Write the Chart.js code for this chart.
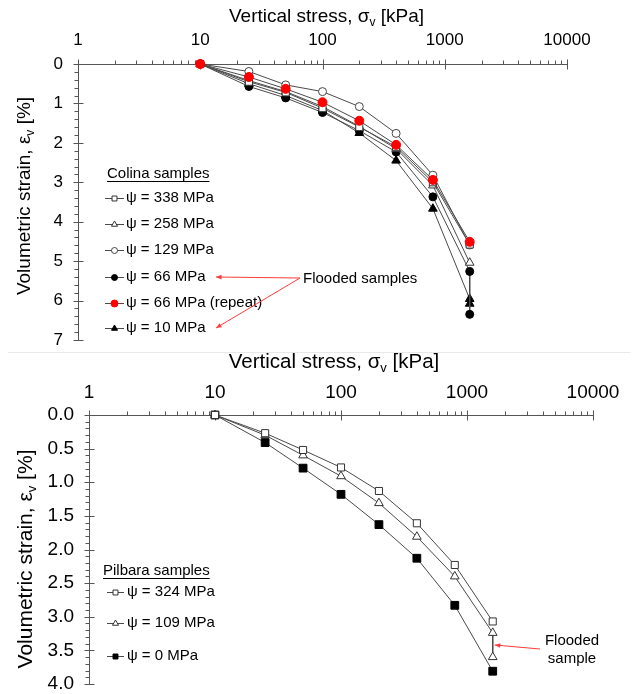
<!DOCTYPE html>
<html>
<head>
<meta charset="utf-8">
<title>Volumetric strain vs vertical stress</title>
<script src="https://cdn.jsdelivr.net/npm/chart.js@4.4.1/dist/chart.umd.min.js"></script>
<style>
    html, body { margin: 0; padding: 0; background: #fff; }
    #wrap { position: relative; width: 635px; height: 694px; overflow: hidden; }
    .panel { position: absolute; left: 0; }
    #sep { position: absolute; left: 8px; top: 352px; width: 622px; height: 1px; background: #e8e8e8; }
</style>
</head>
<body>
<div id="wrap">
    <canvas id="colinaChart" class="panel" style="top:0" width="635" height="352"></canvas>
    <div id="sep"></div>
    <canvas id="pilbaraChart" class="panel" style="top:352px" width="635" height="342"></canvas>
</div>
<script>
// ---- data ----
const stressSteps = [10, 25, 50, 100, 200, 400, 800, 1600];
const stressStepsFlooded = [10, 25, 50, 100, 200, 400, 800, 1600, 1600];
const xTickValues = [1, 10, 100, 1000, 10000];

// Colina samples, volumetric strain [%]
const colina338 = [0, 0.45, 0.72, 1.12, 1.60, 2.10, 3.00, 4.58];
const colina258 = [0, 0.42, 0.70, 1.08, 1.58, 2.15, 3.08, 5.04];
const colina129 = [0, 0.19, 0.53, 0.70, 1.08, 1.76, 2.82, 4.59];
const colina66 = [0, 0.57, 0.86, 1.23, 1.69, 2.23, 3.37, 5.26, 6.35];
const colina66repeat = [0, 0.33, 0.63, 0.97, 1.44, 2.05, 2.94, 4.51];
const colina10 = [0, 0.50, 0.80, 1.18, 1.75, 2.45, 3.67, 5.96, 6.08];
const colinaYTicks = [0, 1, 2, 3, 4, 5, 6, 7];

// Pilbara samples, volumetric strain [%]
const pilbara324 = [0, 0.27, 0.52, 0.78, 1.13, 1.61, 2.23, 3.07];
const pilbara109 = [0, 0.30, 0.60, 0.91, 1.31, 1.81, 2.40, 3.24, 3.60];
const pilbara0 = [0, 0.41, 0.79, 1.18, 1.63, 2.13, 2.83, 3.81];
const pilbaraYTicks = [0, 0.5, 1.0, 1.5, 2.0, 2.5, 3.0, 3.5, 4.0];

const FONT = '"Liberation Sans", Arial, Helvetica, sans-serif';
const AXIS_COLOR = '#555';
const LINE_COLOR = '#4a4a4a';
const ARROW_RED = '#ff3b3b';

const toPoints = (xs, ys) => ys.map((y, i) => ({ x: xs[i], y: y }));

function series(label, xs, ys, style, radius, fill, stroke, order) {
    return {
        label: label,
        data: toPoints(xs, ys),
        borderColor: LINE_COLOR,
        borderWidth: 1,
        pointStyle: style,
        pointRadius: radius,
        pointHoverRadius: radius,
        pointBackgroundColor: fill,
        pointBorderColor: stroke,
        pointBorderWidth: 1,
        tension: 0,
        clip: false,
        order: order || 0
    };
}

// text with a subscript part, optionally rotated
function drawSubText(ctx, parts, cx, cy, size, rotate) {
    ctx.save();
    ctx.translate(cx, cy);
    if (rotate) ctx.rotate(-Math.PI / 2);
    ctx.fillStyle = '#000';
    ctx.textBaseline = 'middle';
    const fontOf = (p) => `${p.sub ? Math.round(size * 0.62) : size}px ${FONT}`;
    let total = 0;
    parts.forEach(p => { ctx.font = fontOf(p); total += ctx.measureText(p.t).width; });
    let x = -total / 2;
    parts.forEach(p => {
        ctx.font = fontOf(p);
        ctx.fillText(p.t, x, p.sub ? size * 0.3 : 0);
        x += ctx.measureText(p.t).width;
    });
    ctx.restore();
}

function drawArrow(ctx, x0, y0, x1, y1) {
    const ang = Math.atan2(y1 - y0, x1 - x0);
    ctx.beginPath();
    ctx.moveTo(x0, y0);
    ctx.lineTo(x1, y1);
    ctx.stroke();
    ctx.beginPath();
    ctx.moveTo(x1, y1);
    ctx.lineTo(x1 - 6 * Math.cos(ang - 0.4), y1 - 6 * Math.sin(ang - 0.4));
    ctx.lineTo(x1 - 6 * Math.cos(ang + 0.4), y1 - 6 * Math.sin(ang + 0.4));
    ctx.closePath();
    ctx.fill();
}

// axis lines, major/minor tick marks, titles, legend and notes
function panelPlugin(cfg) {
    return {
        id: 'panelDecor',
        beforeDatasetsDraw(chart) {
            const { ctx, chartArea: a, scales: { x, y } } = chart;
            const ty = Math.round(a.top) + 0.5;
            const lx = Math.round(a.left) + 0.5;
            ctx.save();
            ctx.strokeStyle = AXIS_COLOR;
            ctx.lineWidth = 1;
            ctx.beginPath();
            ctx.moveTo(lx, ty); ctx.lineTo(Math.round(a.right) + 0.5, ty);
            ctx.moveTo(lx, ty); ctx.lineTo(lx, Math.round(a.bottom) + 0.5);
            xTickValues.forEach((v, i) => {
                const px = Math.round(x.getPixelForValue(v)) + 0.5;
                ctx.moveTo(px, ty - 5); ctx.lineTo(px, ty + 5);
                if (i < xTickValues.length - 1) {
                    for (let k = 2; k <= 9; k++) {
                        const mx = Math.round(x.getPixelForValue(k * v)) + 0.5;
                        ctx.moveTo(mx, ty - 4); ctx.lineTo(mx, ty);
                    }
                }
            });
            cfg.yTicks.forEach(v => {
                const py = Math.round(y.getPixelForValue(v)) + 0.5;
                ctx.moveTo(lx - 5, py); ctx.lineTo(lx + 5, py);
            });
            const yMax = cfg.yTicks[cfg.yTicks.length - 1];
            for (let v = cfg.yMinor; v < yMax - 1e-6; v += cfg.yMinor) {
                const py = Math.round(y.getPixelForValue(v)) + 0.5;
                ctx.moveTo(lx - 4, py); ctx.lineTo(lx, py);
            }
            ctx.stroke();
            ctx.restore();
        },
        afterDraw(chart) {
            const { ctx, chartArea: a } = chart;
            ctx.save();
            // axis titles
            drawSubText(ctx, [{ t: 'Vertical stress, σ' }, { t: 'v', sub: true }, { t: ' [kPa]' }],
                (a.left + a.right) / 2 + cfg.xTitleShift, cfg.xTitleY, cfg.xTitleSize, false);
            drawSubText(ctx, [{ t: 'Volumetric strain, ε' }, { t: 'v', sub: true }, { t: ' [%]' }],
                cfg.yTitleX, cfg.yTitleY, cfg.yTitleSize, true);

            // legend
            const lg = cfg.legend;
            ctx.font = `${lg.size}px ${FONT}`;
            ctx.fillStyle = '#000';
            ctx.textBaseline = 'middle';
            ctx.fillText(lg.title, lg.x, lg.titleY);
            const tw = ctx.measureText(lg.title).width;
            ctx.fillRect(lg.x, lg.titleY + 7, tw, 1);
            lg.rows.forEach((row, i) => {
                const ds = chart.data.datasets[row.index];
                const ry = lg.rowYs[i];
                ctx.strokeStyle = LINE_COLOR;
                ctx.lineWidth = 1;
                ctx.beginPath();
                ctx.moveTo(lg.lineX0, ry + 0.5);
                ctx.lineTo(lg.lineX1, ry + 0.5);
                ctx.stroke();
                ctx.fillStyle = ds.pointBackgroundColor;
                ctx.strokeStyle = ds.pointBorderColor;
                Chart.helpers.drawPoint(ctx, {
                    pointStyle: ds.pointStyle,
                    radius: row.r,
                    rotation: 0,
                    borderWidth: 1
                }, (lg.lineX0 + lg.lineX1) / 2, ry + 0.5);
                ctx.fillStyle = '#000';
                ctx.fillText(row.text, lg.textX, ry);
            });

            // notes with red arrows
            ctx.strokeStyle = ARROW_RED;
            ctx.fillStyle = ARROW_RED;
            ctx.lineWidth = 1;
            cfg.arrows(chart).forEach(ar => drawArrow(ctx, ar[0], ar[1], ar[2], ar[3]));
            ctx.fillStyle = '#000';
            ctx.font = `${lg.size}px ${FONT}`;
            ctx.textAlign = cfg.note.align;
            cfg.note.lines.forEach((t, i) => ctx.fillText(t, cfg.note.x, cfg.note.y + i * cfg.note.lh));
            ctx.restore();
        }
    };
}

function buildChart(canvasId, datasets, cfg) {
    const ctx = document.getElementById(canvasId);
    return new Chart(ctx, {
        type: 'line',
        data: { datasets: datasets },
        options: {
            responsive: false,
            animation: false,
            events: [],
            layout: { padding: cfg.padding },
            plugins: { legend: { display: false }, tooltip: { enabled: false } },
            scales: {
                x: {
                    type: 'logarithmic',
                    position: 'top',
                    min: 1,
                    max: 10000,
                    grid: { display: false, drawTicks: false },
                    border: { display: false },
                    afterBuildTicks: (s) => { s.ticks = xTickValues.map(v => ({ value: v })); },
                    afterFit: (s) => {
                        s.height = cfg.xAxisH;
                        s.paddingLeft = 0;
                        s.paddingRight = 0;
                    },
                    ticks: {
                        autoSkip: false,
                        maxRotation: 0,
                        padding: cfg.xTickPad,
                        color: '#000',
                        font: { family: FONT, size: cfg.tickSize },
                        callback: (v) => String(v)
                    }
                },
                y: {
                    type: 'linear',
                    reverse: true,
                    min: cfg.yTicks[0],
                    max: cfg.yTicks[cfg.yTicks.length - 1],
                    grid: { display: false, drawTicks: false },
                    border: { display: false },
                    afterBuildTicks: (s) => { s.ticks = cfg.yTicks.map(v => ({ value: v })); },
                    afterFit: (s) => {
                        s.width = cfg.yAxisW;
                        s.paddingTop = 0;
                        s.paddingBottom = 0;
                    },
                    ticks: {
                        padding: cfg.yTickPad,
                        color: '#000',
                        font: { family: FONT, size: cfg.tickSize },
                        callback: (v) => cfg.yFormat(v)
                    }
                }
            }
        },
        plugins: [panelPlugin(cfg)]
    });
}

document.addEventListener('DOMContentLoaded', () => {
    // top panel: Colina samples
    const colinaSets = [
        series('ψ = 66 MPa (repeat)', stressSteps, colina66repeat, 'circle', 4.5, '#ff0000', '#ff0000', -1),
        series('ψ = 338 MPa', stressSteps, colina338, 'rect', 5, '#fff', '#333'),
        series('ψ = 258 MPa', stressSteps, colina258, 'triangle', 5, '#fff', '#333'),
        series('ψ = 129 MPa', stressSteps, colina129, 'circle', 4, '#fff', '#444'),
        series('ψ = 66 MPa', stressStepsFlooded, colina66, 'circle', 4, '#000', '#000'),
        series('ψ = 10 MPa', stressStepsFlooded, colina10, 'triangle', 5, '#000', '#000')
    ];
    buildChart('colinaChart', colinaSets, {
        padding: { left: 0, right: 68, top: 0, bottom: 12 },
        xAxisH: 64, yAxisW: 78,
        xTickPad: 13, yTickPad: 15,
        tickSize: 17, xTitleSize: 19, yTitleSize: 19,
        xTitleShift: 4, xTitleY: 17,
        yTitleX: 25, yTitleY: 196,
        yTicks: colinaYTicks, yMinor: 0.2,
        yFormat: (v) => String(v),
        legend: {
            title: 'Colina samples', x: 107, titleY: 174, size: 15,
            lineX0: 105, lineX1: 124, textX: 126,
            rowYs: [198, 224, 250, 277, 303, 328],
            rows: [
                { index: 1, text: 'ψ = 338 MPa', r: 3.5 },
                { index: 2, text: 'ψ = 258 MPa', r: 3.5 },
                { index: 3, text: 'ψ = 129 MPa', r: 3 },
                { index: 4, text: 'ψ = 66 MPa', r: 3 },
                { index: 0, text: 'ψ = 66 MPa (repeat)', r: 3.5 },
                { index: 5, text: 'ψ = 10 MPa', r: 3.5 }
            ]
        },
        note: { lines: ['Flooded samples'], x: 303, y: 279, lh: 18, align: 'left' },
        arrows: () => [[300, 278, 216, 277], [300, 278, 216, 328]]
    });

    // bottom panel: Pilbara samples
    const pilbaraSets = [
        series('ψ = 324 MPa', stressSteps, pilbara324, 'rect', 5, '#fff', '#333'),
        series('ψ = 109 MPa', stressStepsFlooded, pilbara109, 'triangle', 5, '#fff', '#333'),
        series('ψ = 0 MPa', stressSteps, pilbara0, 'rect', 5.5, '#000', '#000')
    ];
    buildChart('pilbaraChart', pilbaraSets, {
        padding: { left: 0, right: 42, top: 0, bottom: 10 },
        xAxisH: 63, yAxisW: 89,
        xTickPad: 11, yTickPad: 15,
        tickSize: 19, xTitleSize: 20.5, yTitleSize: 21,
        xTitleShift: -7, xTitleY: 10,
        yTitleX: 26, yTitleY: 207,
        yTicks: pilbaraYTicks, yMinor: 0.1,
        yFormat: (v) => v.toFixed(1),
        legend: {
            title: 'Pilbara samples', x: 103, titleY: 219, size: 15,
            lineX0: 107, lineX1: 124, textX: 127,
            rowYs: [240, 271, 304],
            rows: [
                { index: 0, text: 'ψ = 324 MPa', r: 3.5 },
                { index: 1, text: 'ψ = 109 MPa', r: 3.5 },
                { index: 2, text: 'ψ = 0 MPa', r: 3.5 }
            ]
        },
        note: { lines: ['Flooded', 'sample'], x: 572, y: 289, lh: 18, align: 'center' },
        arrows: (chart) => {
            const px = chart.scales.x.getPixelForValue(1600) + 2;
            const py = chart.scales.y.getPixelForValue(3.42);
            return [[540, 297, px, py]];
        }
    });
});
</script>
</body>
</html>
